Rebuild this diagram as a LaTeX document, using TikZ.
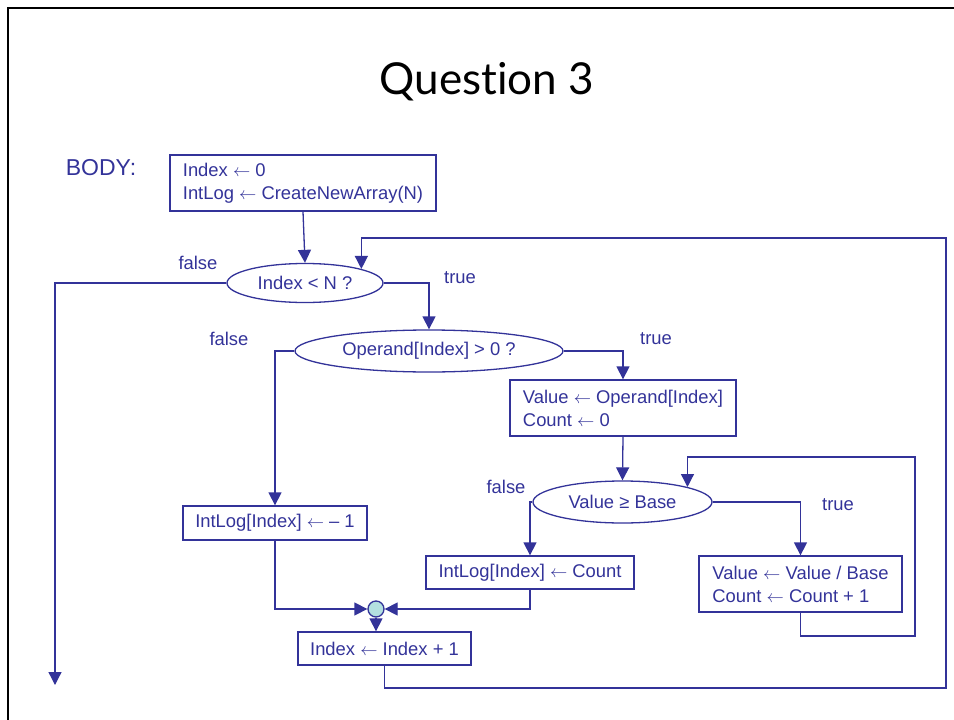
\documentclass[tikz,border=0pt]{standalone}
\usepackage{fontspec}
\setmainfont{Liberation Sans}
\newfontfamily\titlefont{Lato}[Ligatures=NoCommon]
\usetikzlibrary{shapes.geometric,arrows.meta}
\definecolor{flow}{RGB}{51,51,153}
\definecolor{joinfill}{RGB}{179,224,224}
\begin{document}
\begin{tikzpicture}[x=1pt,y=-1pt,
  every node/.style={font=\fontsize{18.4}{23}\selectfont, text=flow},
  line/.style={draw=flow, line width=1.3pt},
  arr/.style={line, -{Triangle[width=13pt,length=13pt]}},
  stepbox/.style={line, rectangle, inner sep=0pt, align=left},
  test/.style={line, ellipse, inner sep=0pt},
  lbl/.style={inner sep=0pt}]
\useasboundingbox (0,0) rectangle (954,720);
% slide frame
\draw[black, line width=2pt] (8,720) -- (8,8) -- (954,8);
% heading
\node[text=black, font=\titlefont\fontsize{44}{50}\selectfont] (title) at (487,82) {Question 3};
\node[font=\fontsize{23}{27}\selectfont] (body) at (101,168) {BODY:};

% boxes
\node[stepbox, minimum width=266pt, minimum height=56pt] (init) at (303,183)
  {Index $\leftarrow$ 0\\IntLog $\leftarrow$ CreateNewArray(N)};
\node[stepbox, minimum width=226pt, minimum height=56pt] (setv) at (623,408)
  {Value $\leftarrow$ Operand[Index]\\Count $\leftarrow$ 0};
\node[stepbox, minimum width=184pt, minimum height=34pt] (neg) at (275,523)
  {IntLog[Index] $\leftarrow$ -- 1};
\node[stepbox, minimum width=208pt, minimum height=33pt] (store) at (530,572.5)
  {IntLog[Index] $\leftarrow$ Count};
\node[stepbox, minimum width=203pt, minimum height=56pt] (divide) at (800.5,584)
  {Value $\leftarrow$ Value / Base\\Count $\leftarrow$ Count + 1};
\node[stepbox, minimum width=173pt, minimum height=33pt] (inc) at (384.5,648.5)
  {Index $\leftarrow$ Index + 1};

% decisions
\node[test, minimum width=156pt, minimum height=39pt] (loopq) at (305,283) {Index < N ?};
\node[test, minimum width=268pt, minimum height=42pt] (posq) at (429,351) {Operand[Index] > 0 ?};
\node[test, minimum width=179pt, minimum height=42pt] (baseq) at (622.5,502) {Value ≥ Base};

% junction
\node[draw=flow, line width=1.3pt, fill=joinfill, circle, inner sep=0pt, minimum size=16pt] (join) at (376,609) {};

% branch labels
\node[lbl] (f1) at (198,263) {false};
\node[lbl] (t1) at (460,278) {true};
\node[lbl] (f2) at (229,339) {false};
\node[lbl] (t2) at (656,339) {true};
\node[lbl] (f3) at (506,487) {false};
\node[lbl] (t3) at (838,505) {true};

% route corners
\coordinate (exit) at (55,685);
\coordinate (outerB) at (946,688);
\coordinate (outerT) at (946,238);
\coordinate (innerB) at (915,636);
\coordinate (innerT) at (915,457);

% connectors
\draw[arr] (init.south) -- (loopq.north);
\draw[arr] (loopq.west) -| (exit);
\draw[arr] (loopq.east) -| (posq.north);
\draw[arr] (posq.west) -| (neg.north);
\draw[arr] (posq.east) -| (setv.north);
\draw[arr] (setv.south) -- (baseq.north);
\draw[arr] (baseq.west) -| (store.north);
\draw[arr] (baseq.east) -| (divide.north);
\draw[arr] (divide.south) |- (innerB) -- (innerT) -| (baseq.13);
\draw[arr] (neg.south) |- (join.west);
\draw[arr] (store.south) |- (join.east);
\draw[arr] (join.south) -- (join.south |- inc.north);
\draw[arr] (inc.south) |- (outerB) -- (outerT) -| (loopq.14);
\end{tikzpicture}
\end{document}
